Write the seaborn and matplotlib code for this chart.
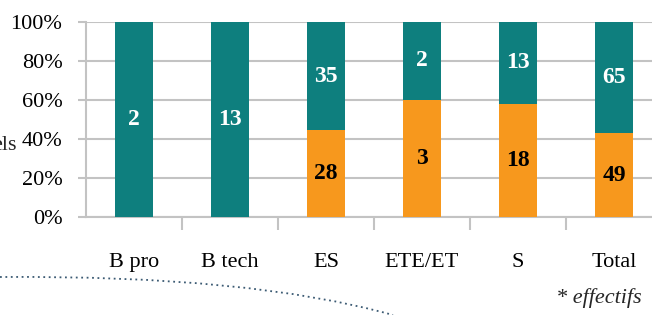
import numpy as np
import pandas as pd
import matplotlib.pyplot as plt
import seaborn as sns
from matplotlib.path import Path
from matplotlib.patches import PathPatch

# data
categories = ["B pro", "B tech", "ES", "ETE/ET", "S", "Total"]
orange_counts = [0, 0, 28, 3, 18, 49]
teal_counts = [2, 13, 35, 2, 13, 65]

teal_color = "#0E7F7E"
orange_color = "#F7981D"
grid_color = "#C3C3C3"

df = pd.DataFrame({"cat": categories, "orange": orange_counts, "teal": teal_counts})
df["total"] = df["orange"] + df["teal"]
df["orange_pct"] = df["orange"] / df["total"] * 100
df["full_pct"] = 100.0

sns.set_theme(style="white")
plt.rcParams["font.family"] = ["Liberation Serif", "DejaVu Serif"]

fig = plt.figure(figsize=(6.52, 3.15), dpi=100)
ax = fig.add_axes([86 / 652, 1 - 217 / 315, 576 / 652, 195 / 315])

# teal bar (full height) then orange on top of it from 0
sns.barplot(data=df, x="cat", y="full_pct", color=teal_color, width=0.39,
            saturation=1, linewidth=0, ax=ax, zorder=3)
sns.barplot(data=df, x="cat", y="orange_pct", color=orange_color, width=0.39,
            saturation=1, linewidth=0, ax=ax, zorder=3)

# labels in the middle of each segment
for i, (o, t) in enumerate(zip(orange_counts, teal_counts)):
    op = df["orange_pct"][i]
    ax.text(i, op + (100 - op) / 2, str(t), ha="center", va="center",
            color="white", fontsize=17, fontweight="bold", zorder=5)
    if o > 0:
        ax.text(i, op / 2, str(o), ha="center", va="center",
                color="black", fontsize=17, fontweight="bold", zorder=5)

ax.set_ylim(0, 100)
ax.set_xlim(-0.5, len(categories) - 0.5)
ax.set_yticks([0, 20, 40, 60, 80, 100])
ax.set_yticklabels([f"{v}%" for v in [0, 20, 40, 60, 80, 100]])
ax.yaxis.grid(True, color=grid_color, linewidth=1.5, zorder=0)
ax.set_axisbelow(True)
ax.set_xlabel("")
ax.set_ylabel("")

for s in ["top", "right"]:
    ax.spines[s].set_visible(False)
for s in ["left", "bottom"]:
    ax.spines[s].set_color(grid_color)
    ax.spines[s].set_linewidth(1.5)

ax.tick_params(axis="y", left=True, length=6, color=grid_color, width=1.5,
               labelsize=16, pad=11, labelcolor="black")
ax.tick_params(axis="x", bottom=False, labelsize=16, pad=20, labelcolor="black")
ax.set_xticks(np.arange(len(categories)) + 0.5, minor=True)
ax.tick_params(axis="x", which="minor", bottom=True, length=9, color=grid_color,
               width=1.5)

# clipped text from the surrounding slide
fig.text(17 / 652, 1 - 146 / 315, "els", fontsize=16, ha="right", va="center")
fig.text(642 / 652, 1 - 298 / 315, "* effectifs", fontsize=16, style="italic",
         ha="right", va="center")

# dotted curve at the bottom left
verts = [(0 / 652, 1 - 277 / 315), (250 / 652, 1 - 275 / 315),
         (393 / 652, 1 - 315 / 315)]
curve = Path(verts, [Path.MOVETO, Path.CURVE3, Path.CURVE3])
fig.add_artist(PathPatch(curve, transform=fig.transFigure, facecolor="none",
                         edgecolor="#3B5A73", linestyle=(0, (1, 2)),
                         linewidth=1.3))

fig.savefig("out.png", dpi=100)
